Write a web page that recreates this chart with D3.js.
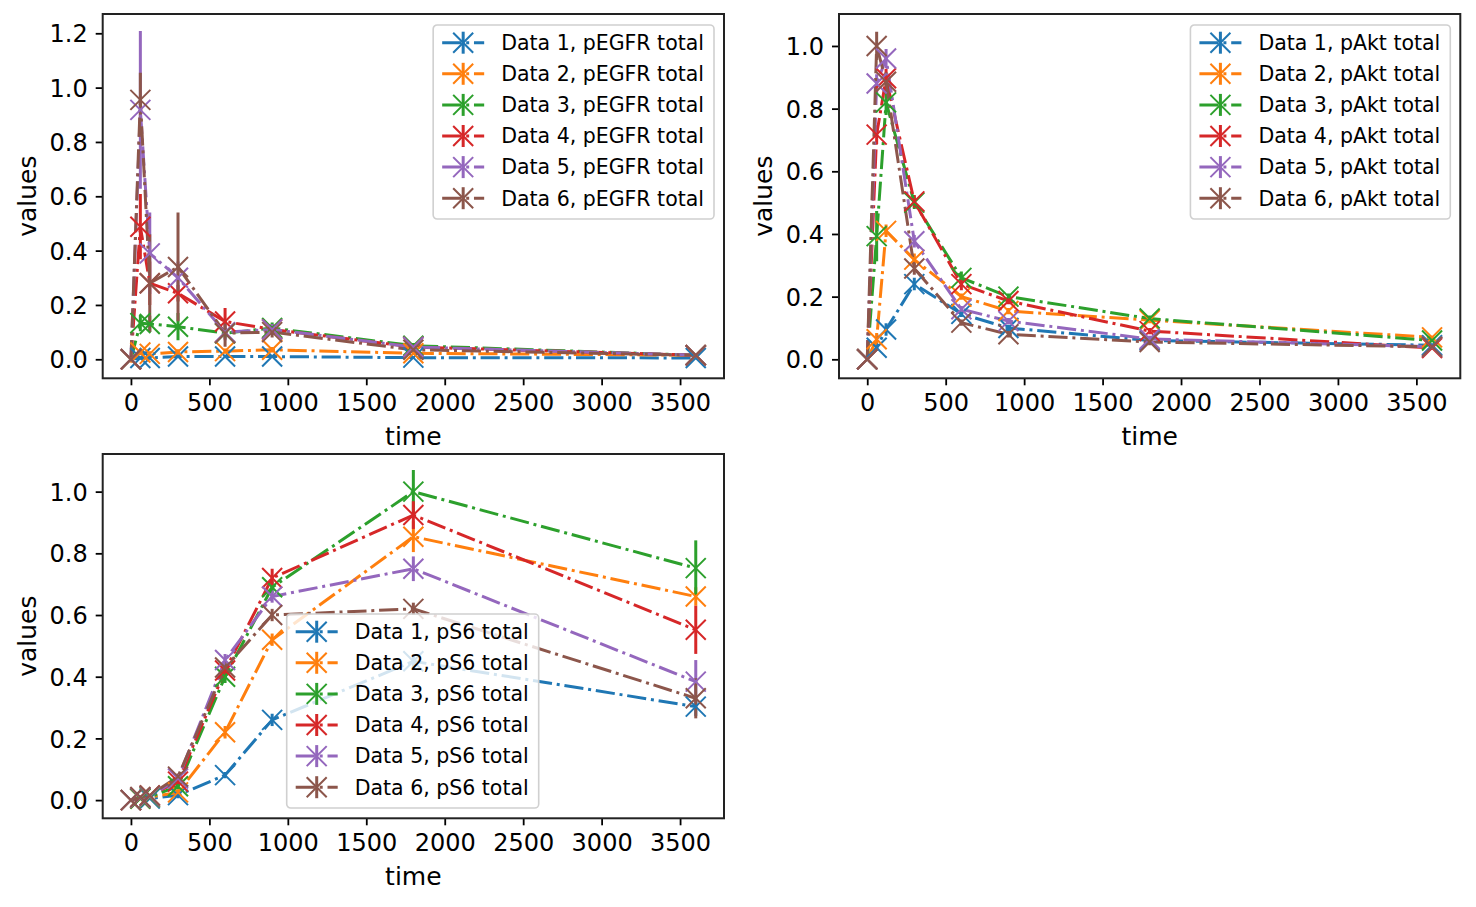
<!DOCTYPE html>
<html>
<head>
<meta charset="utf-8">
<script src="https://cdn.jsdelivr.net/npm/d3@7"></script>
<style>
	body { margin: 0; background: #fff; }
	svg text { font-family: "DejaVu Sans", sans-serif; fill: #000; }
</style>
</head>
<body>
<div id="chart"></div>
<script>

// time points (s)
let times = [0, 60, 120, 300, 600, 900, 1800, 3600];
let seriesNames = ["Data 1", "Data 2", "Data 3", "Data 4", "Data 5", "Data 6"];
let colors = ["#1f77b4", "#ff7f0e", "#2ca02c", "#d62728", "#9467bd", "#8c564b"];
let xTicks = [0, 500, 1000, 1500, 2000, 2500, 3000, 3500];
let yTicksEGFR = [0, 0.2, 0.4, 0.6, 0.8, 1.0, 1.2];
let yTicksUnit = [0, 0.2, 0.4, 0.6, 0.8, 1.0];

// pEGFR total
let egfrValues = [
	[0, 0.005, 0.005, 0.01, 0.01, 0.01, 0.006, 0.005],
	[0, 0.025, 0.02, 0.027, 0.03, 0.035, 0.022, 0.015],
	[0, 0.133, 0.13, 0.12, 0.096, 0.115, 0.05, 0.015],
	[0, 0.488, 0.28, 0.243, 0.139, 0.11, 0.045, 0.015],
	[0, 0.918, 0.39, 0.30, 0.10, 0.11, 0.045, 0.015],
	[0, 0.955, 0.28, 0.34, 0.096, 0.10, 0.035, 0.015]
];
let egfrErrors = [
	[0, 0.005, 0.005, 0.005, 0.005, 0.005, 0.003, 0.003],
	[0, 0.01, 0.01, 0.01, 0.01, 0.01, 0.005, 0.003],
	[0, 0.03, 0.03, 0.05, 0.02, 0.02, 0.01, 0.005],
	[0, 0.12, 0.08, 0.03, 0.05, 0.02, 0.01, 0.005],
	[0, 0.29, 0.15, 0.06, 0.03, 0.02, 0.01, 0.005],
	[0, 0.10, 0.18, 0.20, 0.05, 0.02, 0.01, 0.005]
];

// pAkt total
let aktValues = [
	[0, 0.037, 0.095, 0.24, 0.145, 0.10, 0.06, 0.045],
	[0, 0.064, 0.41, 0.318, 0.20, 0.154, 0.125, 0.07],
	[0, 0.393, 0.82, 0.50, 0.26, 0.20, 0.13, 0.06],
	[0, 0.717, 0.897, 0.504, 0.24, 0.186, 0.09, 0.036],
	[0, 0.88, 0.96, 0.377, 0.16, 0.122, 0.065, 0.04],
	[0, 1.0, 0.886, 0.29, 0.117, 0.08, 0.055, 0.04]
];
let aktErrors = [
	[0, 0.01, 0.02, 0.02, 0.01, 0.01, 0.01, 0.005],
	[0, 0.02, 0.02, 0.02, 0.01, 0.01, 0.01, 0.005],
	[0, 0.08, 0.04, 0.02, 0.02, 0.01, 0.01, 0.005],
	[0, 0.03, 0.03, 0.02, 0.02, 0.01, 0.01, 0.005],
	[0, 0.03, 0.03, 0.02, 0.01, 0.01, 0.01, 0.005],
	[0, 0.045, 0.03, 0.02, 0.01, 0.01, 0.01, 0.005]
];

// pS6 total
let s6Values = [
	[0, 0.005, 0.005, 0.016, 0.081, 0.26, 0.45, 0.303],
	[0, 0.005, 0.01, 0.025, 0.22, 0.52, 0.854, 0.66],
	[0, 0.005, 0.01, 0.045, 0.40, 0.69, 1.0, 0.752],
	[0, 0.008, 0.015, 0.06, 0.42, 0.72, 0.924, 0.552],
	[0, 0.008, 0.012, 0.07, 0.454, 0.66, 0.75, 0.384],
	[0, 0.01, 0.015, 0.076, 0.43, 0.60, 0.62, 0.33]
];
let s6Errors = [
	[0, 0.003, 0.003, 0.01, 0.01, 0.02, 0.02, 0.03],
	[0, 0.003, 0.005, 0.01, 0.02, 0.02, 0.05, 0.03],
	[0, 0.003, 0.005, 0.01, 0.02, 0.02, 0.07, 0.09],
	[0, 0.003, 0.005, 0.01, 0.02, 0.03, 0.045, 0.078],
	[0, 0.003, 0.005, 0.01, 0.02, 0.02, 0.04, 0.07],
	[0, 0.003, 0.005, 0.01, 0.02, 0.02, 0.02, 0.065]
];


class TimeCoursePanel {

	constructor(svg, values, errors, config) {
		this.svg = svg;
		this.values = values;
		this.errors = errors;
		this.config = config;

		this.initVis();
	}

	initVis() {
		let vis = this;
		let c = vis.config;

		vis.width = c.width;
		vis.height = c.height;

		vis.g = vis.svg.append("g")
			.attr("transform", "translate(" + c.left + "," + c.top + ")");

		vis.clipId = "clip-" + c.species;
		vis.g.append("clipPath").attr("id", vis.clipId)
			.append("rect").attr("width", vis.width).attr("height", vis.height);

		// Scales and axes
		vis.x = d3.scaleLinear().domain([-180, 3780]).range([0, vis.width]);
		vis.y = d3.scaleLinear().domain(c.yDomain).range([vis.height, 0]);

		vis.xAxis = d3.axisBottom(vis.x).tickValues(xTicks).tickSize(7).tickSizeOuter(0).tickPadding(9)
			.tickFormat(d3.format("d"));
		vis.yAxis = d3.axisLeft(vis.y).tickValues(c.yTicks).tickSize(7).tickSizeOuter(0).tickPadding(8)
			.tickFormat(d3.format(".1f"));

		vis.plotArea = vis.g.append("g").attr("clip-path", "url(#" + vis.clipId + ")");

		vis.wrangleData();
	}

	wrangleData() {
		let vis = this;

		vis.displayData = vis.values.map((vals, i) => ({
			name: seriesNames[i] + ", " + vis.config.species + " total",
			color: colors[i],
			points: vals.map((v, j) => ({t: times[j], v: v, e: vis.errors[i][j]}))
		}));

		vis.updateVis();
	}

	updateVis() {
		let vis = this;
		let dash = "19.2,4.8,3,4.8";

		// error bars first (matplotlib puts them under the data lines)
		vis.displayData.forEach(s => {
			vis.plotArea.append("g").selectAll("line")
				.data(s.points.filter(p => p.e > 0))
				.enter().append("line")
				.attr("x1", p => vis.x(p.t))
				.attr("x2", p => vis.x(p.t))
				.attr("y1", p => vis.y(p.v - p.e))
				.attr("y2", p => vis.y(p.v + p.e))
				.attr("stroke", s.color)
				.attr("stroke-width", 3);
		});

		let line = d3.line().x(p => vis.x(p.t)).y(p => vis.y(p.v));

		vis.displayData.forEach(s => {
			vis.plotArea.append("path")
				.datum(s.points)
				.attr("d", line)
				.attr("fill", "none")
				.attr("stroke", s.color)
				.attr("stroke-width", 3)
				.attr("stroke-dasharray", dash);

			vis.g.append("g").selectAll("path")
				.data(s.points)
				.enter().append("path")
				.attr("transform", p => "translate(" + vis.x(p.t) + "," + vis.y(p.v) + ")")
				.attr("d", "M-10,-10L10,10M-10,10L10,-10")
				.attr("stroke", s.color)
				.attr("stroke-width", 2)
				.attr("fill", "none");
		});

		// axes
		let xg = vis.g.append("g")
			.attr("transform", "translate(0," + vis.height + ")")
			.call(vis.xAxis);
		let yg = vis.g.append("g").call(vis.yAxis);
		[xg, yg].forEach(a => {
			a.select(".domain").remove();
			a.selectAll(".tick line").attr("stroke", "#000").attr("stroke-width", 1.8);
			a.selectAll(".tick text").attr("font-size", "24px").attr("font-family", "DejaVu Sans");
		});
		yg.selectAll(".tick text").attr("dy", "0.36em");
		xg.selectAll(".tick text").attr("dy", "0.71em");

		vis.g.append("rect")
			.attr("width", vis.width)
			.attr("height", vis.height)
			.attr("fill", "none")
			.attr("stroke", "#222")
			.attr("stroke-width", 2);

		vis.g.append("text")
			.attr("x", vis.width / 2)
			.attr("y", vis.height + 67)
			.attr("text-anchor", "middle")
			.attr("font-size", "25px")
			.text("time");

		vis.g.append("text")
			.attr("transform", "translate(-67," + (vis.height / 2) + ") rotate(-90)")
			.attr("text-anchor", "middle")
			.attr("font-size", "25px")
			.text("values");

		vis.drawLegend(dash);
	}

	drawLegend(dash) {
		let vis = this;
		let c = vis.config;
		let rowH = 31.1;

		let lg = vis.g.append("g");
		let box = lg.append("rect");

		let rows = lg.selectAll(".row")
			.data(vis.displayData)
			.enter().append("g")
			.attr("class", "row")
			.attr("transform", (d, i) => "translate(0," + (17.7 + i * rowH) + ")");

		rows.append("line")
			.attr("x1", 9).attr("x2", 51)
			.attr("stroke", d => d.color)
			.attr("stroke-width", 3)
			.attr("stroke-dasharray", dash);
		rows.append("line")
			.attr("x1", 30).attr("x2", 30).attr("y1", -11).attr("y2", 11)
			.attr("stroke", d => d.color)
			.attr("stroke-width", 3);
		rows.append("path")
			.attr("transform", "translate(30,0)")
			.attr("d", "M-10,-10L10,10M-10,10L10,-10")
			.attr("stroke", d => d.color)
			.attr("stroke-width", 2);
		let labels = rows.append("text")
			.attr("x", 68)
			.attr("dy", "0.36em")
			.attr("font-size", "20.5px")
			.text(d => d.name);

		let textW = d3.max(labels.nodes(), n => n.getComputedTextLength());
		let w = 68 + textW + 10;
		let h = 194;
		let lx = c.legendLeft != null ? c.legendLeft : vis.width - 10 - w;
		let ly = c.legendTop;

		box.attr("x", 0).attr("y", 0)
			.attr("width", w).attr("height", h)
			.attr("rx", 4)
			.attr("fill", "#fff").attr("fill-opacity", 0.8)
			.attr("stroke", "#d0d0d0").attr("stroke-width", 1.6);

		lg.attr("transform", "translate(" + lx + "," + ly + ")");
	}
}


let svg = d3.select("#chart").append("svg")
	.attr("width", 1476)
	.attr("height", 907);

let panelEGFR = new TimeCoursePanel(svg, egfrValues, egfrErrors, {
	species: "pEGFR", left: 102.7, top: 14, width: 621.3, height: 364.3,
	yDomain: [-0.070, 1.271], yTicks: yTicksEGFR, legendTop: 11
});
let panelAkt = new TimeCoursePanel(svg, aktValues, aktErrors, {
	species: "pAkt", left: 839, top: 14, width: 621.3, height: 364.3,
	yDomain: [-0.0606, 1.102], yTicks: yTicksUnit, legendTop: 11
});
let panelS6 = new TimeCoursePanel(svg, s6Values, s6Errors, {
	species: "pS6", left: 102.7, top: 454, width: 621.3, height: 364.3,
	yDomain: [-0.059, 1.122], yTicks: yTicksUnit, legendTop: 160, legendLeft: 184
});

</script>
</body>
</html>
